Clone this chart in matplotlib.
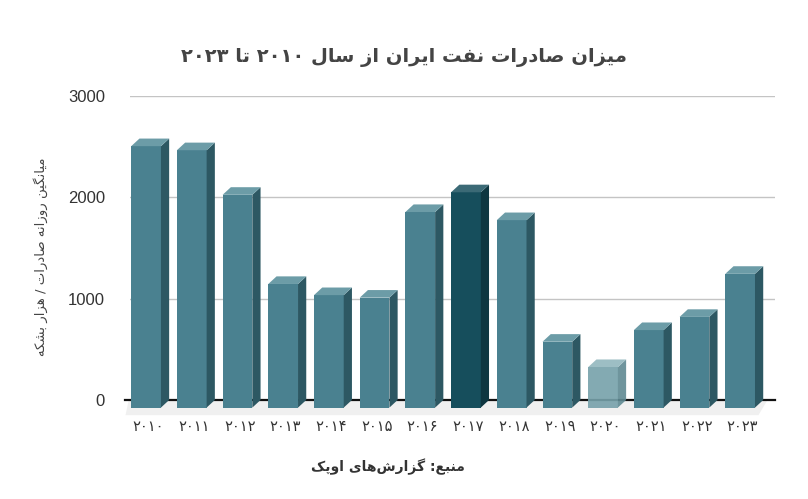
import re
import numpy as np
import matplotlib
matplotlib.use('Agg')
import matplotlib.pyplot as plt
from matplotlib.patches import Polygon

# Daily oil exports (thousand barrels/day)
years = ['۲۰۱۰', '۲۰۱۱', '۲۰۱۲', '۲۰۱۳', '۲۰۱۴', '۲۰۱۵', '۲۰۱۶',
         '۲۰۱۷', '۲۰۱۸', '۲۰۱۹', '۲۰۲۰', '۲۰۲۱', '۲۰۲۲', '۲۰۲۳']
exports = [2580, 2540, 2100, 1220, 1110, 1085, 1930,
           2125, 1850, 650, 400, 765, 895, 1320]
yticks = [0, 1000, 2000, 3000]

title = 'میزان صادرات نفت ایران از سال ۲۰۱۰ تا ۲۰۲۳'
ylabel = 'میانگین روزانه صادرات / هزار بشکه'
source = 'منبع: گزارش\u200cهای اوپک'

# --- very small Persian shaper (matplotlib does no shaping / bidi) ---
dual = {
    'ب': (0xFE8F, 0xFE90, 0xFE91, 0xFE92), 'پ': (0xFB56, 0xFB57, 0xFB58, 0xFB59),
    'ت': (0xFE95, 0xFE96, 0xFE97, 0xFE98), 'س': (0xFEB1, 0xFEB2, 0xFEB3, 0xFEB4),
    'ش': (0xFEB5, 0xFEB6, 0xFEB7, 0xFEB8), 'ص': (0xFEB9, 0xFEBA, 0xFEBB, 0xFEBC),
    'ع': (0xFEC9, 0xFECA, 0xFECB, 0xFECC), 'ف': (0xFED1, 0xFED2, 0xFED3, 0xFED4),
    'ک': (0xFB8E, 0xFB8F, 0xFB90, 0xFB91), 'گ': (0xFB92, 0xFB93, 0xFB94, 0xFB95),
    'ل': (0xFEDD, 0xFEDE, 0xFEDF, 0xFEE0), 'م': (0xFEE1, 0xFEE2, 0xFEE3, 0xFEE4),
    'ن': (0xFEE5, 0xFEE6, 0xFEE7, 0xFEE8), 'ه': (0xFEE9, 0xFEEA, 0xFEEB, 0xFEEC),
    'ی': (0xFBFC, 0xFBFD, 0xFBFE, 0xFBFF),
}
right = {
    'ا': (0xFE8D, 0xFE8E), 'د': (0xFEA9, 0xFEAA), 'ر': (0xFEAD, 0xFEAE),
    'ز': (0xFEAF, 0xFEB0), 'و': (0xFEED, 0xFEEE),
}


def shape(text):
    out = []
    n = len(text)
    for i, c in enumerate(text):
        if c not in dual and c not in right:
            if c != '\u200c':
                out.append(c)
            continue
        prev = text[i - 1] if i > 0 else ''
        nxt = text[i + 1] if i < n - 1 else ''
        jp = prev in dual
        jn = c in dual and (nxt in dual or nxt in right)
        if c in right:
            out.append(chr(right[c][1] if jp else right[c][0]))
        else:
            f = dual[c]
            if jp and jn:
                out.append(chr(f[3]))
            elif jp:
                out.append(chr(f[1]))
            elif jn:
                out.append(chr(f[2]))
            else:
                out.append(chr(f[0]))
    s = ''.join(out)
    tokens = re.findall(r'[0-9۰-۹]+|[^0-9۰-۹]+', s)
    return ''.join(t if t[0] in '0123456789۰۱۲۳۴۵۶۷۸۹' else t[::-1]
                   for t in reversed(tokens))


fig = plt.figure(figsize=(8.08, 4.99), dpi=100)
ax = fig.add_axes([0.161, 0.1984, 0.798, 0.6092])

x = np.arange(len(exports))
w = 0.65      # front face width
dx = 0.18     # depth, x units
dy = 75       # depth, y units

ax.set_xlim(-0.35, 13.76)
ax.set_ylim(0, 3000)

# gridlines and baseline
for t in yticks[1:]:
    ax.axhline(t, color='#c4c4c4', lw=1, zorder=0)
ax.axhline(0, color='#111111', lw=1.6, zorder=1, xmin=-0.008, clip_on=False)

# floor shadow
ax.add_patch(Polygon([(-0.38, 0), (13.6, 0), (13.4, -150), (-0.45, -150)],
                     closed=True, fc='#f0f0f0', ec='none', zorder=0.5, clip_on=False))

front_c = ['#4a8190'] * len(exports)
side_c = ['#2d5863'] * len(exports)
top_c = ['#6c9ca7'] * len(exports)
alphas = [1.0] * len(exports)
front_c[7], side_c[7], top_c[7] = '#164e5c', '#0e3640', '#3b6a76'
front_c[10], side_c[10], top_c[10] = '#76a1aa', '#5f8a93', '#93b7be'
alphas[10] = 0.9

for xi, v, fc, sc, tc, a in zip(x, exports, front_c, side_c, top_c, alphas):
    x0, x1 = xi - w / 2, xi + w / 2
    ax.bar(xi, v, width=w, bottom=-dy, color=fc, alpha=a, zorder=3, clip_on=False)
    ax.add_patch(Polygon([(x1, -dy), (x1 + dx, 0), (x1 + dx, v), (x1, v - dy)],
                         closed=True, fc=sc, ec='none', alpha=a, zorder=3, clip_on=False))
    ax.add_patch(Polygon([(x0, v - dy), (x1, v - dy), (x1 + dx, v), (x0 + dx, v)],
                         closed=True, fc=tc, ec='none', alpha=a, zorder=3, clip_on=False))

for s in ax.spines.values():
    s.set_visible(False)

ax.set_yticks(yticks)
ax.set_yticklabels([str(t) for t in yticks], family='Liberation Sans',
                   fontsize=12, color='#333333')
ax.tick_params(axis='y', length=0, pad=18)
ax.set_xticks(x + 0.05)
ax.set_xticklabels(years, family='DejaVu Sans', fontsize=10.5, color='#333333')
ax.tick_params(axis='x', length=0, pad=14)

fig.text(0.5, 0.885, shape(title), ha='center', va='center', fontsize=14,
         fontweight='bold', color='#444444', family='DejaVu Sans')
fig.text(0.05, 0.485, shape(ylabel), ha='center', va='center', rotation=90,
         fontsize=9.5, color='#444444', family='DejaVu Sans')
fig.text(0.48, 0.065, shape(source), ha='center', va='center', fontsize=10,
         fontweight='bold', color='#333333', family='DejaVu Sans')

fig.savefig('out.png', dpi=100)
